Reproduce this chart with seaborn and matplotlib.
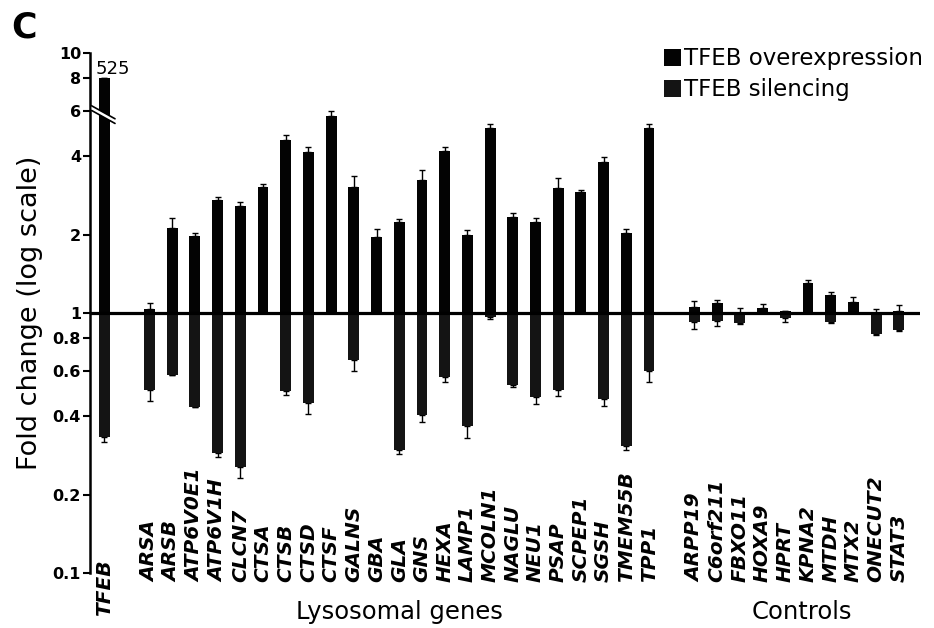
import numpy as np
import pandas as pd
import matplotlib
matplotlib.use("Agg")
import matplotlib.pyplot as plt
import matplotlib.transforms as mtransforms
from matplotlib.patches import Polygon
import seaborn as sns

# ---------------- data ----------------
genes_target = ["TFEB"]
genes_lyso = ["ARSA", "ARSB", "ATP6V0E1", "ATP6V1H", "CLCN7", "CTSA", "CTSB", "CTSD",
              "CTSF", "GALNS", "GBA", "GLA", "GNS", "HEXA", "LAMP1", "MCOLN1", "NAGLU",
              "NEU1", "PSAP", "SCPEP1", "SGSH", "TMEM55B", "TPP1"]
genes_ctrl = ["ARPP19", "C6orf211", "FBXO11", "HOXA9", "HPRT", "KPNA2", "MTDH", "MTX2",
              "ONECUT2", "STAT3"]

overexpression = [525,
                  1.04, 2.12, 1.98, 2.72, 2.58, 3.05, 4.63, 4.16, 5.72, 3.05, 1.96, 2.24,
                  3.25, 4.20, 2.00, 5.15, 2.34, 2.24, 3.03, 2.92, 3.81, 2.03, 5.15,
                  1.055, 1.09, 1.00, 1.045, 1.02, 1.30, 1.17, 1.10, 1.00, 1.02]
silencing = [0.333,
             0.505, 0.577, 0.435, 0.29, 0.255, 1.0, 0.50, 0.45, 1.0, 0.66, 1.0, 0.297,
             0.405, 0.567, 0.367, 0.965, 0.53, 0.475, 0.505, 1.0, 0.467, 0.308, 0.598,
             0.923, 0.93, 0.915, 1.0, 0.957, 1.0, 0.923, 1.0, 0.83, 0.86]
err_over = [0.0,
            0.05, 0.19, 0.05, 0.07, 0.09, 0.08, 0.20, 0.18, 0.25, 0.32, 0.14, 0.06,
            0.29, 0.15, 0.09, 0.18, 0.08, 0.08, 0.29, 0.05, 0.17, 0.07, 0.18,
            0.058, 0.03, 0.045, 0.04, 0.0, 0.035, 0.03, 0.05, 0.04, 0.055]
err_sil = [0.015,
           0.045, 0.0, 0.0, 0.01, 0.023, 0.0, 0.018, 0.04, 0.0, 0.064, 0.0, 0.01,
           0.025, 0.025, 0.036, 0.02, 0.01, 0.03, 0.027, 0.0, 0.03, 0.011, 0.053,
           0.055, 0.04, 0.01, 0.0, 0.03, 0.0, 0.01, 0.0, 0.01, 0.01]

tick_values = [0.1, 0.2, 0.4, 0.6, 0.8, 1, 2, 4, 6, 8, 10]
tick_labels = ["0.1", "0.2", "0.4", "0.6", "0.8", "1", "2", "4", "6", "8", "10"]
axis_cap = 8          # TFEB overexpression is drawn truncated at this value (axis break)
legend_labels = ["TFEB overexpression", "TFEB silencing"]
group_labels = ["Lysosomal genes", "Controls"]

# ---------------- build frame ----------------
genes = genes_target + genes_lyso + genes_ctrl
order = genes_target + [" "] + genes_lyso + ["  "] + genes_ctrl
over_disp = [min(v, axis_cap) for v in overexpression]
n = len(genes)
df = pd.DataFrame({
    "gene": genes * 2,
    "condition": [legend_labels[0]] * n + [legend_labels[1]] * n,
    "fold": over_disp + silencing,
})
df["log_fold"] = np.log10(df["fold"])

# ---------------- figure ----------------
sns.set_style("ticks")
plt.rcParams["font.family"] = ["DejaVu Sans"]
plt.rcParams["text.color"] = "black"
plt.rcParams["axes.labelcolor"] = "black"
plt.rcParams["xtick.color"] = "black"
plt.rcParams["ytick.color"] = "black"
plt.rcParams["axes.edgecolor"] = "black"

fig = plt.figure(figsize=(9.34, 6.28), dpi=100)
ax = fig.add_axes([0.0964, 0.0876, 0.889, 0.828])

c_over = "#030303"
c_sil = "#141414"
sns.barplot(data=df, x="gene", y="log_fold", hue="condition", order=order,
            hue_order=legend_labels, palette=[c_over, c_sil], dodge=False,
            width=0.48, errorbar=None, saturation=1, linewidth=0, ax=ax, zorder=3)

pos = {g: order.index(g) for g in genes}
xs = np.array([pos[g] for g in genes], dtype=float)

# error bars (outward only)
lo = np.log10(over_disp)
up = np.log10(np.array(over_disp) + np.array(err_over)) - lo
ax.errorbar(xs, lo, yerr=[np.zeros(n), up], fmt="none", ecolor="black",
            elinewidth=1.0, capsize=2.0, capthick=1.0, zorder=2)
ls = np.log10(silencing)
dn = ls - np.log10(np.array(silencing) - np.array(err_sil))
ax.errorbar(xs, ls, yerr=[dn, np.zeros(n)], fmt="none", ecolor="black",
            elinewidth=1.0, capsize=2.0, capthick=1.0, zorder=2)

# baseline at fold change 1
ax.axhline(0, color="black", lw=2.3, zorder=4)

# axes styling
ax.set_xlim(-0.62, 35.95)
ax.set_ylim(-1, 1)
ax.set_yticks(np.log10(tick_values))
ax.set_yticklabels(tick_labels, fontsize=11.5, fontweight="bold", color="black")
ax.tick_params(axis="y", direction="out", length=5, width=1.5, pad=1.5, colors="black")
ax.set_xticks([])
ax.set_xlabel("")
for s in ["top", "right", "bottom"]:
    ax.spines[s].set_visible(False)
ax.spines["left"].set_linewidth(1.8)
ax.spines["left"].set_color("black")

ax.set_ylabel("Fold change (log scale)", fontsize=19.5, color="black")
ax.yaxis.set_label_coords(-0.0566, 0.5)

# gene labels
trans = mtransforms.blended_transform_factory(ax.transData, ax.transAxes)
for g in genes:
    yb = -0.083 if g in genes_target else -0.0175
    ax.text(pos[g], yb, g, rotation=90, ha="center", va="bottom", transform=trans,
            fontsize=14.5, fontweight="bold", fontstyle="italic", color="black",
            clip_on=False)

# group labels
lyso_mid = (pos[genes_lyso[0]] + pos[genes_lyso[-1]]) / 2
ctrl_mid = (pos[genes_ctrl[0]] + pos[genes_ctrl[-1]]) / 2
ax.text(lyso_mid, -0.075, group_labels[0], ha="center", va="center", transform=trans,
        fontsize=17.5, color="black", clip_on=False)
ax.text(ctrl_mid + 0.25, -0.075, group_labels[1], ha="center", va="center", transform=trans,
        fontsize=17.5, color="black", clip_on=False)

# truncated TFEB value and axis break
ax.text(pos["TFEB"] - 0.36, np.log10(axis_cap) + 0.002, f"{overexpression[0]:g}",
        ha="left", va="bottom", fontsize=13, color="black")
bx0, bx1 = -0.55, 0.48
by0, by1 = 0.797, 0.747
gap = 0.018
ax.add_patch(Polygon([[bx0, by0], [bx1, by1], [bx1, by1 - gap], [bx0, by0 - gap]],
                     closed=True, facecolor="white", edgecolor="none", zorder=6,
                     clip_on=False))
ax.plot([bx0, bx1], [by0, by1], color="black", lw=1.2, zorder=7, clip_on=False)
ax.plot([bx0, bx1], [by0 - gap, by1 - gap], color="black", lw=1.2, zorder=7, clip_on=False)

# legend
handles, labels = ax.get_legend_handles_labels()
leg = ax.legend(handles, labels, loc="upper left", bbox_to_anchor=(0.711, 0.925),
                bbox_transform=fig.transFigure, frameon=False, fontsize=16.5,
                handlelength=0.75, handleheight=0.75, handletextpad=0.1,
                labelspacing=0.35, borderpad=0, borderaxespad=0, labelcolor="black")

# panel letter
fig.text(0.012, 1 - 38 / 628, "C", fontsize=25, fontweight="bold", ha="left",
         va="baseline", color="black")

fig.savefig("out.png", dpi=100, facecolor="white")
